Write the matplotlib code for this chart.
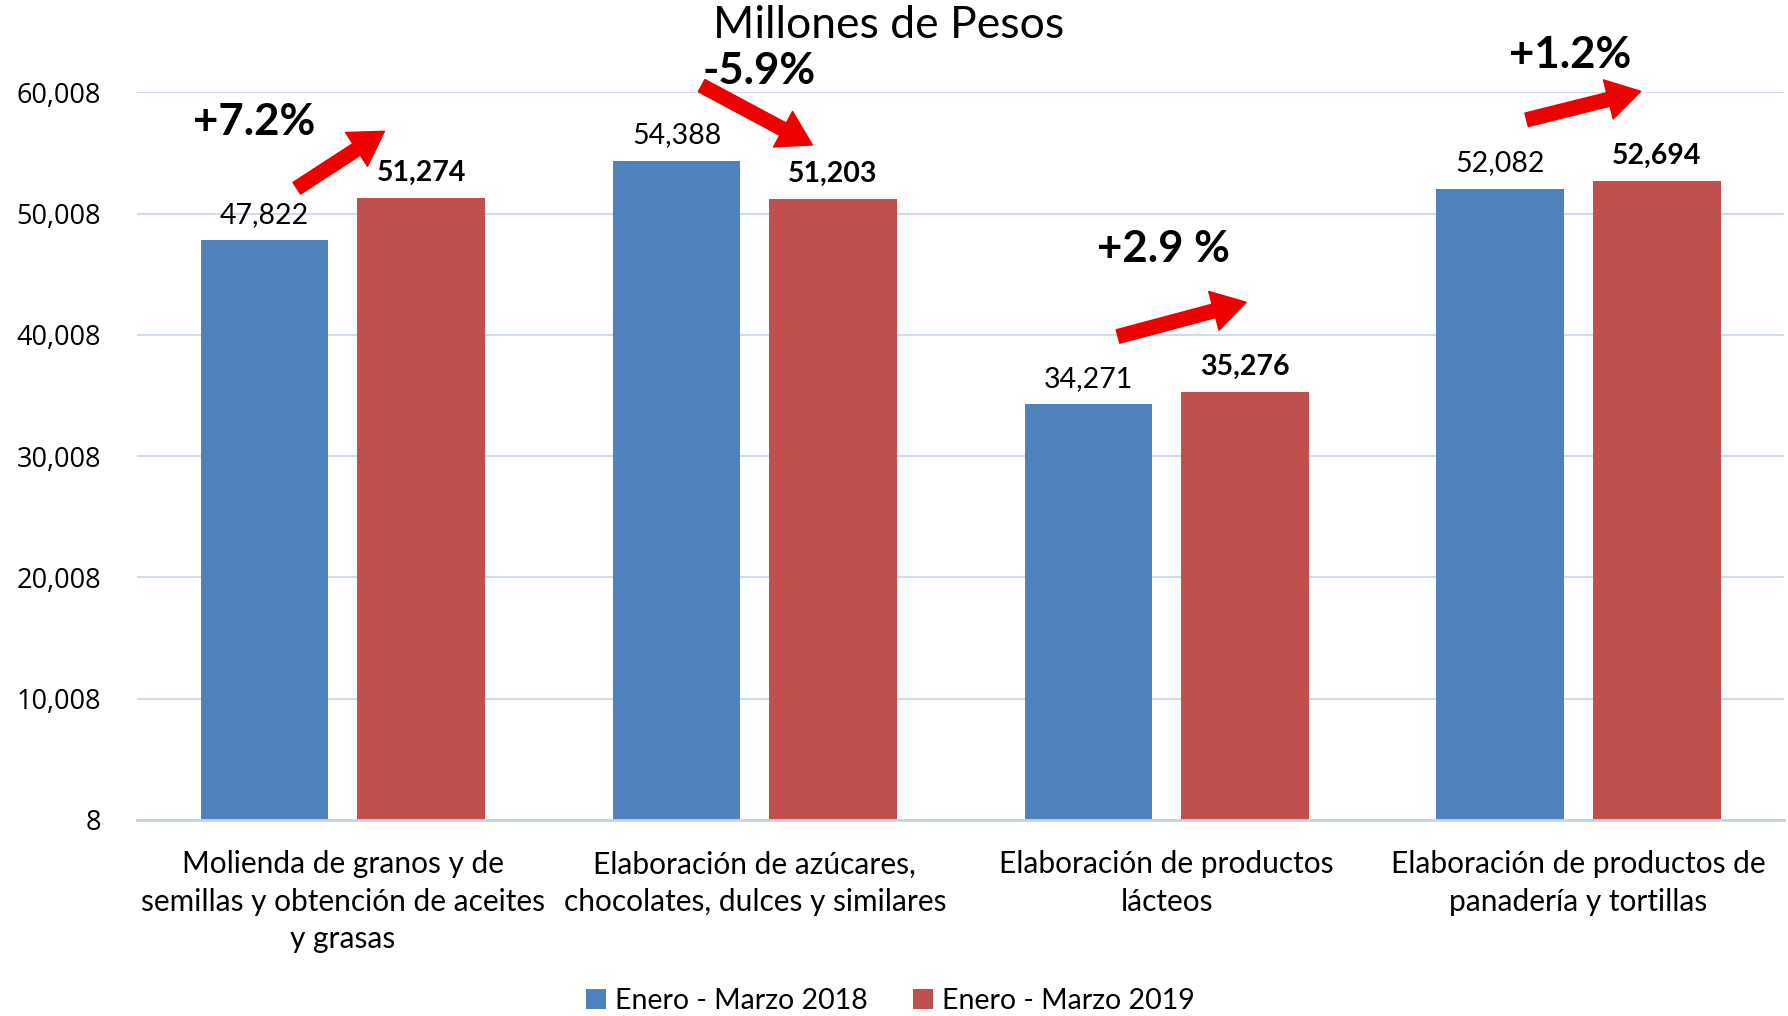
import matplotlib
matplotlib.use("Agg")
import matplotlib.pyplot as plt
import numpy as np

# data
categories = ["Molienda de granos y de\nsemillas y obtención de aceites\ny grasas",
              "Elaboración de azúcares,\nchocolates, dulces y similares",
              "Elaboración de productos\nlácteos",
              "Elaboración de productos de\npanadería y tortillas"]
ene_mar_2018 = [47822, 54388, 34271, 52082]
ene_mar_2019 = [51274, 51203, 35276, 52694]
pct_labels = ["+7.2%", "-5.9%", "+2.9 %", "+1.2%"]
y_ticks = [8, 10008, 20008, 30008, 40008, 50008, 60008]

# layout for the change annotations (offset from group centre, y in data units)
pct_pos = [(-0.215, 57560), (0.01, 61790), (-0.007, 47120), (-0.021, 63110)]
arrow_pos = [((-0.112, 52106), (0.101, 56808)),
             ((-0.129, 60570), (0.140, 55680)),
             ((-0.118, 39881), (0.193, 42702)),
             ((-0.126, 57750), (0.151, 60100))]

plt.rcParams['font.family'] = ['Lato', 'DejaVu Sans']

blue = "#4F81BD"
red = "#C0504D"

fig = plt.figure(figsize=(17.88, 10.16), dpi=100)
ax = fig.add_axes([0.0766, 0.193, 0.9214, 0.716])

x = np.arange(len(categories))
off = 0.19
w = 0.31
b1 = ax.bar(x - off, ene_mar_2018, width=w, color=blue, label="Enero - Marzo 2018", zorder=2)
b2 = ax.bar(x + off, ene_mar_2019, width=w, color=red, label="Enero - Marzo 2019", zorder=2)

for i in range(len(categories)):
    ax.annotate(f"{ene_mar_2018[i]:,}", (x[i] - off, ene_mar_2018[i]), xytext=(0, 9),
                textcoords="offset points", ha="center", va="bottom", fontsize=20.5)
    ax.annotate(f"{ene_mar_2019[i]:,}", (x[i] + off, ene_mar_2019[i]), xytext=(0, 9),
                textcoords="offset points", ha="center", va="bottom", fontsize=20.5,
                fontweight="bold")
    # change arrows
    (sx, sy), (ex, ey) = arrow_pos[i]
    ax.annotate("", xy=(x[i] + ex, ey), xytext=(x[i] + sx, sy),
                arrowprops=dict(arrowstyle="simple,head_width=2.9,head_length=2.4,tail_width=1.0",
                                mutation_scale=10, color="#EE0000", shrinkA=0, shrinkB=0),
                annotation_clip=False)
    px, py = pct_pos[i]
    ax.text(x[i] + px, py, pct_labels[i], ha="center", va="center", fontsize=31.5,
            fontweight="bold", clip_on=False)

ax.set_xlim(-0.5, len(categories) - 0.5)
ax.set_ylim(8, 60008)
ax.set_yticks(y_ticks)
ax.set_yticklabels([f"{t:,}" for t in y_ticks], fontsize=19.5, family=["Open Sans", "DejaVu Sans"])
ax.set_xticks(x)
ax.set_xticklabels(categories, fontsize=21.5, linespacing=1.4)
ax.tick_params(axis="both", length=0)
ax.tick_params(axis="x", pad=22)
ax.tick_params(axis="y", pad=26)
ax.grid(axis="y", color="#D0DCEC", linewidth=1.5, zorder=0)
for s in ["top", "right", "left"]:
    ax.spines[s].set_visible(False)
ax.spines["bottom"].set_color("#C4D2E8")
ax.spines["bottom"].set_linewidth(2)

fig.text(0.497, 0.975, "Millones de Pesos", ha="center", va="center", fontsize=32)

fig.legend(handles=[b1, b2], loc="center", bbox_to_anchor=(0.498, 0.015), ncol=2,
           frameon=False, fontsize=20.5, handlelength=0.7, handleheight=0.7,
           handletextpad=0.3, columnspacing=1.6)

plt.savefig("out.png", dpi=100)
